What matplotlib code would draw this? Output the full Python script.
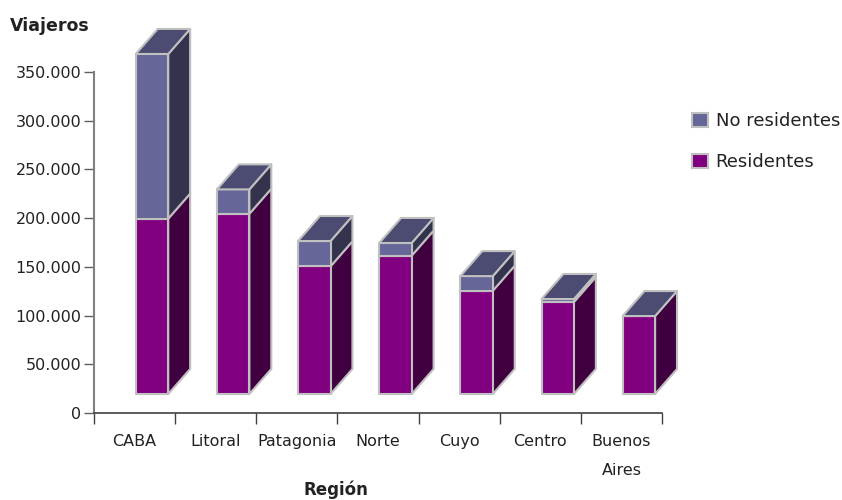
import matplotlib
matplotlib.use("Agg")
import matplotlib.pyplot as plt
from matplotlib.patches import Patch, Polygon
from matplotlib.ticker import FuncFormatter

regiones = ["CABA", "Litoral", "Patagonia", "Norte", "Cuyo", "Centro", "Buenos\nAires"]
residentes = [180000, 185000, 131000, 142000, 106000, 94500, 80000]
no_residentes = [169000, 25000, 26000, 13000, 15000, 3000, 0]
yticks = [0, 50000, 100000, 150000, 200000, 250000, 300000, 350000]

# colores: frente, lado, tapa
color_res = ("#800080", "#400040")
color_nores = ("#666699", "#33334d", "#4c4c73")
borde = "#c0c0c0"

# falso 3D, en unidades de los ejes
base = 19500
ancho = 0.40
inicio = 0.515
prof_x = 0.27
prof_y = 25700

W, H = 842, 500
fig = plt.figure(figsize=(W / 100, H / 100), dpi=100)
ax = fig.add_axes([94 / W, 1 - 413 / H, (662 - 94) / W, (413 - 72) / H])
ax.set_xlim(0, len(regiones))
ax.set_ylim(0, 350000)


def cara(puntos, color, z):
    ax.add_patch(Polygon(puntos, closed=True, facecolor=color, edgecolor=borde,
                         linewidth=1.5, clip_on=False, zorder=z, joinstyle="round"))


for i in range(len(regiones)):
    x0 = i + inicio
    x1 = x0 + ancho
    y0 = base
    y1 = y0 + residentes[i]
    y2 = y1 + no_residentes[i]
    z = 3 + i

    # lados
    cara([(x1, y0), (x1 + prof_x, y0 + prof_y), (x1 + prof_x, y1 + prof_y), (x1, y1)], color_res[1], z)
    if no_residentes[i] > 0:
        cara([(x1, y1), (x1 + prof_x, y1 + prof_y), (x1 + prof_x, y2 + prof_y), (x1, y2)], color_nores[1], z)
    # frentes
    cara([(x0, y0), (x1, y0), (x1, y1), (x0, y1)], color_res[0], z)
    if no_residentes[i] > 0:
        cara([(x0, y1), (x1, y1), (x1, y2), (x0, y2)], color_nores[0], z)
    # tapa
    cara([(x0, y2), (x1, y2), (x1 + prof_x, y2 + prof_y), (x0 + prof_x, y2 + prof_y)], color_nores[2], z)

for s in ["top", "right"]:
    ax.spines[s].set_visible(False)
ax.spines["left"].set_color("#808080")
ax.spines["left"].set_linewidth(1.5)
ax.spines["bottom"].set_color("#404040")
ax.spines["bottom"].set_linewidth(1.2)

ax.set_yticks(yticks)
ax.yaxis.set_major_formatter(FuncFormatter(lambda v, p: f"{int(v):,}".replace(",", ".")))
ax.tick_params(axis="y", length=7, width=1, color="#606060", labelsize=11.5, pad=2, labelcolor="#222222")

ax.set_xticks(range(len(regiones) + 1))
ax.set_xticklabels([""] * (len(regiones) + 1))
ax.tick_params(axis="x", length=8, width=1, color="#404040")
ax.set_xticks([i + 0.5 for i in range(len(regiones))], minor=True)
ax.set_xticklabels(regiones, minor=True, fontsize=11.5, color="#222222", linespacing=2.2)
ax.tick_params(axis="x", which="minor", length=0, pad=15)

fig.text(10 / W, 1 - 26 / H, "Viajeros", fontsize=12.5, fontweight="bold", color="#222222", va="center", ha="left")
fig.text(336 / W, 1 - 490 / H, "Región", fontsize=12, fontweight="bold", color="#222222", va="center", ha="center")

handles = [Patch(facecolor=color_nores[0], edgecolor=borde, linewidth=1.5, label="No residentes"),
           Patch(facecolor=color_res[0], edgecolor=borde, linewidth=1.5, label="Residentes")]
fig.legend(handles=handles, loc="upper left", bbox_to_anchor=(676 / W, 1 - 96 / H), frameon=False,
           fontsize=13, handlelength=0.85, handleheight=0.85, handletextpad=0.45, labelspacing=1.28,
           labelcolor="#222222", borderpad=0.4)

fig.savefig("out.png", dpi=100)
